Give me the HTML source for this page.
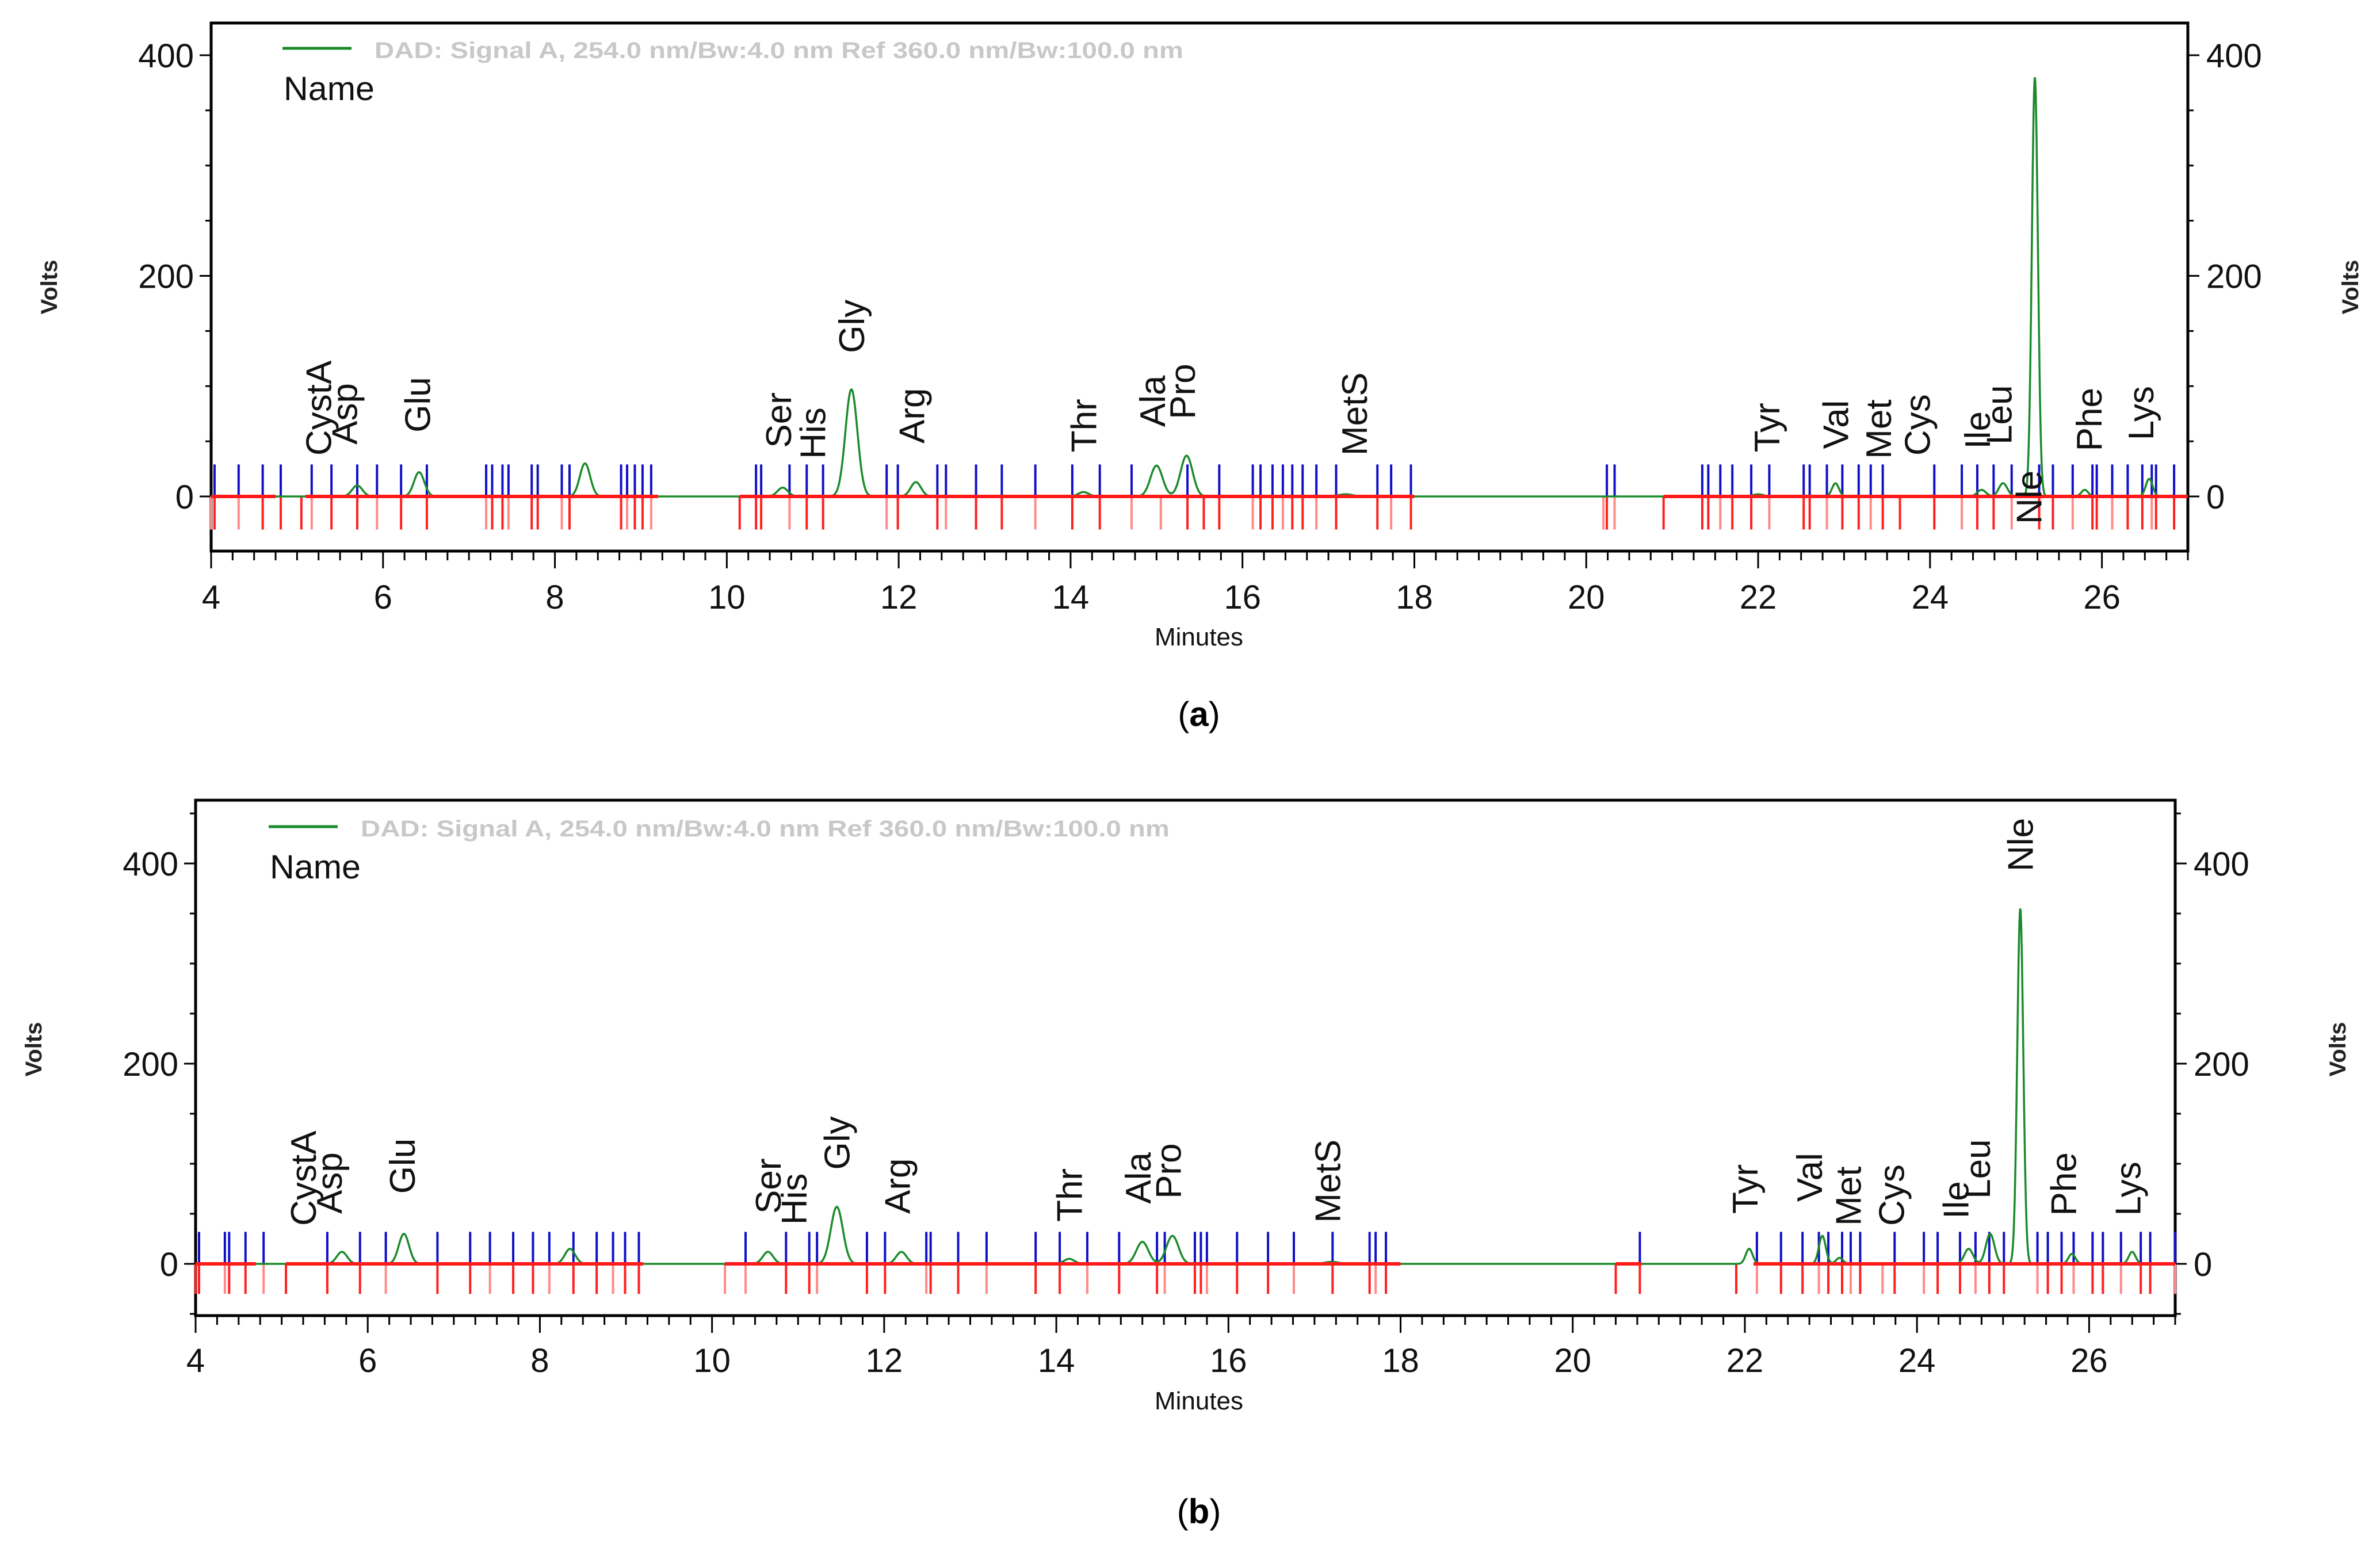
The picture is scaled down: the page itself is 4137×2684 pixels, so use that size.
<!DOCTYPE html>
<html><head><meta charset="utf-8">
<style>
html,body{margin:0;padding:0;background:#fff;}
svg{display:block;}
text{font-family:"Liberation Sans",sans-serif;}
</style></head>
<body>
<svg id="fig" xmlns="http://www.w3.org/2000/svg" width="4137" height="2684" viewBox="0 0 4137 2684">
<rect x="0" y="0" width="4137" height="2684" fill="#fff"/>
</svg>
<script>
// ===== Panel A data =====
const peakTimesA = [5.7, 6.42, 8.35, 10.65, 11.45, 12.2, 14.15, 15.0, 15.35, 17.2, 22.0, 22.9, 24.6, 24.85, 25.22, 25.8, 26.55];
const peakHeightsA = [10, 22, 30, 8, 97, 13, 4, 28, 37, 2, 2, 12, 6, 12, 380, 6, 16];
const peakWidthsA = [0.06, 0.06, 0.06, 0.06, 0.07, 0.06, 0.06, 0.07, 0.07, 0.08, 0.06, 0.04, 0.05, 0.05, 0.035, 0.04, 0.04];
const labelNamesA = ["CystA","Asp","Glu","Ser","His","Gly","Arg","Thr","Ala","Pro","MetS","Tyr","Val","Met","Cys","Ile","Leu","Nle","Phe","Lys"];
const labelTimesA = [5.25, 5.55, 6.4, 10.6, 11.0, 11.45, 12.15, 14.15, 14.95, 15.3, 17.3, 22.1, 22.9, 23.4, 23.85, 24.55, 24.8, 25.15, 25.85, 26.45];
const labelBaseA = [37, 47, 58, 44, 34, 130, 48, 40, 63, 70, 37, 40, 43, 34, 37, 43, 47, -25, 41, 51];
const blueTicksA = [4.04,4.32,4.60,4.81,5.17,5.40,5.70,5.93,6.21,6.51,7.20,7.27,7.39,7.46,7.73,7.80,8.08,8.17,8.77,8.84,8.93,9.02,9.12,10.34,10.40,10.73,10.93,11.12,11.86,11.99,12.45,12.55,12.90,13.20,13.59,14.02,14.34,14.71,15.36,15.73,16.12,16.21,16.35,16.47,16.58,16.70,16.86,17.09,17.57,17.73,17.96,20.24,20.33,21.35,21.42,21.56,21.70,21.92,22.13,22.53,22.60,22.80,22.98,23.17,23.31,23.45,24.05,24.37,24.55,24.74,24.95,25.27,25.43,25.66,25.89,25.94,26.12,26.30,26.47,26.58,26.63,26.84];
const redExtraA = [4.0, 5.05, 10.15, 20.2, 20.9, 23.65, 15.05, 15.55];
const redSegmentsA = [[4,4.75],[5.1,9.2],[10.15,18.0],[20.9,27]];
// ===== Panel B data =====
const peakTimesB = [5.7, 6.42, 8.35, 10.65, 11.45, 12.2, 14.15, 15.0, 15.35, 17.2, 22.05, 22.9, 23.1, 24.6, 24.85, 25.2, 25.8, 26.5];
const peakHeightsB = [12, 30, 15, 12, 57, 12, 5, 22, 28, 2, 15, 28, 6, 15, 30, 355, 10, 12];
const peakWidthsB = [0.06, 0.06, 0.06, 0.06, 0.07, 0.06, 0.06, 0.07, 0.07, 0.08, 0.04, 0.04, 0.04, 0.05, 0.05, 0.035, 0.04, 0.04];
const labelNamesB = ["CystA","Asp","Glu","Ser","His","Gly","Arg","Thr","Ala","Pro","MetS","Tyr","Val","Met","Cys","Ile","Leu","Nle","Phe","Lys"];
const labelTimesB = [5.25, 5.55, 6.4, 10.65, 10.95, 11.45, 12.15, 14.15, 14.95, 15.3, 17.15, 22.0, 22.75, 23.2, 23.7, 24.45, 24.7, 25.2, 25.7, 26.45];
const labelBaseB = [38, 50, 70, 50, 39, 94, 50, 42, 60, 65, 41, 50, 62, 38, 38, 45, 65, 392, 48, 48];
const blueTicksB = [4.04,4.34,4.39,4.58,4.79,5.53,5.91,6.21,6.81,7.19,7.42,7.69,7.92,8.11,8.39,8.66,8.85,8.99,9.15,10.39,10.86,11.13,11.22,11.80,12.01,12.49,12.54,12.86,13.19,13.76,14.04,14.36,14.73,15.17,15.26,15.61,15.68,15.75,16.10,16.46,16.76,17.21,17.64,17.71,17.83,20.78,22.14,22.42,22.67,22.86,22.97,23.13,23.23,23.34,23.74,24.08,24.24,24.50,24.68,24.84,25.01,25.40,25.52,25.68,25.82,26.04,26.16,26.37,26.60,26.71,27.0];
const redExtraB = [4.0, 5.05, 10.15, 20.5, 21.9, 23.6];
const redSegmentsB = [[4,4.7],[5.05,9.2],[10.15,18.0],[20.5,20.8],[22.1,27]];
// axis tick values
const yTickValues = [0, 200, 400];
const xTickValues = [4, 6, 8, 10, 12, 14, 16, 18, 20, 22, 24, 26];

const NS = "http://www.w3.org/2000/svg";
const svg = document.getElementById('fig');
function mk(tag, attrs, parent) {
  const e = document.createElementNS(NS, tag);
  for (const k in attrs) e.setAttribute(k, attrs[k]);
  (parent || svg).appendChild(e);
  return e;
}

function drawPanel(P) {
  const g = mk('g', {});
  
  
  const xs = t => P.left + (t - 4) * (P.right - P.left) / 23;
  const ys = v => P.y0 - v * P.k;

  const frame = mk('rect', {x: P.left, y: P.top, width: P.right - P.left, height: P.bottom - P.top, fill: 'none', stroke: '#000', 'stroke-width': 5}, g);
  
  

  for (let v = -50; v <= 450; v += 50) {
    const y = ys(v);
    if (y < P.top || y > P.bottom) continue;
    const major = yTickValues.includes(v);
    const len = major ? 20 : 10;
    mk('line', {x1: P.left - len, y1: y, x2: P.left, y2: y, stroke: '#000', 'stroke-width': 3}, g);
    mk('line', {x1: P.right, y1: y, x2: P.right + len, y2: y, stroke: '#000', 'stroke-width': 3}, g);
  }
  yTickValues.forEach(v => {
    const lt = mk('text', {x: P.left - 30, y: ys(v) + 21, 'font-size': 58, 'text-anchor': 'end', fill: '#111'}, g);
    lt.textContent = String(v);
    
    
    const rt = mk('text', {x: P.right + 32, y: ys(v) + 21, 'font-size': 58, 'text-anchor': 'start', fill: '#111'}, g);
    rt.textContent = String(v);
    
    
  });
  for (let t = 4; t <= 27.001; t += 0.25) {
    const major = Math.abs(t / 2 - Math.round(t / 2)) < 1e-6;
    mk('line', {x1: xs(t), y1: P.bottom, x2: xs(t), y2: P.bottom + (major ? 30 : 16), stroke: '#000', 'stroke-width': 3}, g);
  }
  xTickValues.forEach(t => {
    const tx = mk('text', {x: xs(t), y: P.xLabelY, 'font-size': 58, 'text-anchor': 'middle', fill: '#111'}, g);
    tx.textContent = String(t);
    
    
  });
  const xt = mk('text', {x: 2084, y: P.minutesY, 'font-size': 44, 'text-anchor': 'middle', fill: '#111'}, g);
  xt.textContent = 'Minutes';
  
  
  const cy = (P.top + P.bottom) / 2 + P.voltsDy;
  const v1 = mk('text', {x: 0, y: 0, 'font-size': 40, 'font-weight': 'bold', 'text-anchor': 'middle', fill: '#222', transform: `translate(${P.left - 268},${cy}) rotate(-90)`}, g);
  v1.textContent = 'Volts';
  
  
  const v2 = mk('text', {x: 0, y: 0, 'font-size': 40, 'font-weight': 'bold', 'text-anchor': 'middle', fill: '#222', transform: `translate(${P.right + 296},${cy}) rotate(-90)`}, g);
  v2.textContent = 'Volts';
  
  

  const ll = mk('line', {x1: P.legX, y1: P.legY, x2: P.legX + 120, y2: P.legY, stroke: '#1a8a2a', 'stroke-width': 5}, g);
  
  
  const lt = mk('text', {x: P.legX + 160, y: P.legY + 17, 'font-size': 40, 'font-weight': 'bold', fill: '#c8c8c8', textLength: 1406, lengthAdjust: 'spacingAndGlyphs'}, g);
  lt.textContent = 'DAD: Signal A, 254.0 nm/Bw:4.0 nm Ref 360.0 nm/Bw:100.0 nm';
  
  
  const nm = mk('text', {x: P.legX + 2, y: P.legY + 90, 'font-size': 58, fill: '#111', textLength: 158, lengthAdjust: 'spacingAndGlyphs'}, g);
  nm.textContent = 'Name';
  
  

  P.red.forEach((t, i) => {
    const r = mk('line', {x1: xs(t), y1: ys(0), x2: xs(t), y2: ys(-30), stroke: i % 3 === 1 ? '#ff8a8a' : '#ff2020', 'stroke-width': 4}, g);
    
    
  });
  P.blue.forEach(t => {
    const b = mk('line', {x1: xs(t), y1: ys(0), x2: xs(t), y2: ys(P.blueH), stroke: '#1010c8', 'stroke-width': 4}, g);
    
    
  });

  let d = '';
  for (let t = 4; t <= 27.0001; t += 0.005) {
    let v = 0;
    for (let i = 0; i < P.pt.length; i++) {
      const z = (t - P.pt[i]) / P.pw[i];
      v += P.ph[i] * Math.exp(-0.5 * z * z);
    }
    d += (d ? 'L' : 'M') + xs(t).toFixed(1) + ',' + ys(v).toFixed(1);
  }
  const sig = mk('path', {d: d, fill: 'none', stroke: '#1a8a2a', 'stroke-width': 3.5}, g);
  
  

  P.seg.forEach(s => {
    const l = mk('line', {x1: xs(s[0]), y1: ys(0), x2: xs(s[1]), y2: ys(0), stroke: '#ff1a1a', 'stroke-width': 6}, g);
    
    
  });

  P.ln.forEach((n, i) => {
    const x = xs(P.lt[i]), y = ys(P.lb[i]);
    const tx = mk('text', {x: 0, y: 0, 'font-size': 62, fill: '#111', transform: `translate(${x + 22},${y}) rotate(-90)`}, g);
    tx.textContent = n;
    
    
  });

  const cap = mk('text', {x: 2084, y: P.capY, 'font-size': 60, 'text-anchor': 'middle', fill: '#000', 'font-family': '"Liberation Serif", serif'}, g);
  cap.innerHTML = '(<tspan font-weight="bold">' + P.cap + '</tspan>)';
  
  
}

drawPanel({name: 'chart-a', left: 367, right: 3803, top: 40, bottom: 958, y0: 863, k: 1.9175,
  xLabelY: 1058, minutesY: 1122, legX: 491, legY: 84, capY: 1262, cap: 'a', blueH: 29, voltsDy: 0,
  pt: peakTimesA, ph: peakHeightsA, pw: peakWidthsA, ln: labelNamesA, lt: labelTimesA, lb: labelBaseA,
  blue: blueTicksA, red: blueTicksA.concat(redExtraA), seg: redSegmentsA});
drawPanel({name: 'chart-b', left: 340, right: 3781, top: 1391, bottom: 2287, y0: 2197, k: 1.74,
  xLabelY: 2385, minutesY: 2450, legX: 467, legY: 1437, capY: 2648, cap: 'b', blueH: 32, voltsDy: -15,
  pt: peakTimesB, ph: peakHeightsB, pw: peakWidthsB, ln: labelNamesB, lt: labelTimesB, lb: labelBaseB,
  blue: blueTicksB, red: blueTicksB.concat(redExtraB), seg: redSegmentsB});
</script>
</body></html>
